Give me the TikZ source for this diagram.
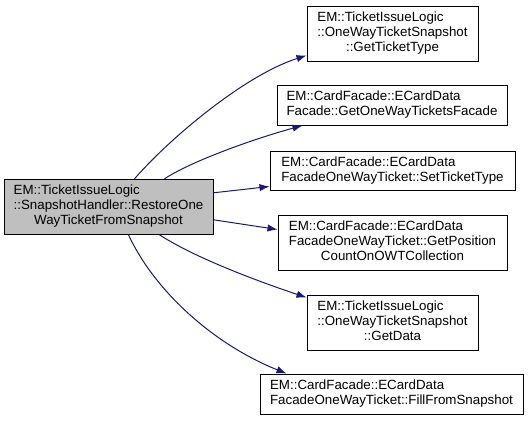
\documentclass[tikz,border=0pt]{standalone}
\usepackage{fontspec}
\setmainfont{Liberation Sans}
\usepackage{xcolor}
\definecolor{dxnavy}{RGB}{25,25,112}
\definecolor{dxgray}{RGB}{191,191,191}
\usepackage{tikz}
\usetikzlibrary{arrows.meta,calc}
\newcommand{\fnlines}[1]{\begin{tabular}{@{}l@{}}#1\end{tabular}}
\newcommand{\fnlast}[1]{\multicolumn{1}{@{}c@{}}{#1}}
\tikzset{
  fnbox/.style={draw=black,line width=0.75pt,fill=white,inner sep=0pt,font=\fontsize{10}{11.25}\selectfont},
  callarr/.style={dxnavy,line width=0.75pt,-{Latex[length=7.5pt,width=5.5pt]}}
}

\begin{document}
\begin{tikzpicture}[x=0.75pt,y=-0.75pt]
\useasboundingbox (0,0) rectangle (529,421);
% ---- caller ----
\node[fnbox,fill=dxgray,minimum width=156.75pt,minimum height=41.25pt] (restore) at (108.5,206.8)
  {\fnlines{EM::TicketIssueLogic\\::SnapshotHandler::RestoreOne\\\fnlast{WayTicketFromSnapshot}}};
% ---- callees ----
\node[fnbox,minimum width=128.25pt,minimum height=41.25pt] (gettype) at (392.5,33.5)
  {\fnlines{EM::TicketIssueLogic\\::OneWayTicketSnapshot\\\fnlast{::GetTicketType}}};
\node[fnbox,minimum width=172.5pt,minimum height=30pt] (getfacade) at (392,105)
  {\fnlines{EM::CardFacade::ECardData\\\fnlast{Facade::GetOneWayTicketsFacade}}};
\node[fnbox,minimum width=183.75pt,minimum height=29.25pt] (settype) at (392.5,170.5)
  {\fnlines{EM::CardFacade::ECardData\\\fnlast{FacadeOneWayTicket::SetTicketType}}};
\node[fnbox,minimum width=171.75pt,minimum height=41.25pt] (getpos) at (392.5,242.5)
  {\fnlines{EM::CardFacade::ECardData\\FacadeOneWayTicket::GetPosition\\\fnlast{CountOnOWTCollection}}};
\node[fnbox,minimum width=128.25pt,minimum height=41.25pt] (getdata) at (392.5,322.5)
  {\fnlines{EM::TicketIssueLogic\\::OneWayTicketSnapshot\\\fnlast{::GetData}}};
\node[fnbox,minimum width=197.25pt,minimum height=30pt] (fillsnap) at (391.5,394)
  {\fnlines{EM::CardFacade::ECardData\\\fnlast{FacadeOneWayTicket::FillFromSnapshot}}};
% ---- calls ----
\draw[callarr] ($(restore.north west)+(131,0)$) .. controls (170,138) and (245,75) .. ($(gettype.south west)+(0,-6)$);
\draw[callarr] ($(restore.north west)+(161,0)$) .. controls (190,162) and (250,140) .. ($(getfacade.south west)+(26,0)$);
\draw[callarr] ($(restore.north east)+(0,14)$) -- ($(settype.south west)+(0,-4)$);
\draw[callarr] ($(restore.south east)+(0,-15)$) -- ($(getpos.north west)+(0,15)$);
\draw[callarr] ($(restore.south west)+(156,0)$) .. controls (195,258) and (260,282) .. ($(getdata.north west)+(0,3)$);
\draw[callarr] ($(restore.south west)+(125,0)$) .. controls (155,292) and (215,345) .. ($(fillsnap.north west)+(27,0)$);
\end{tikzpicture}
\end{document}
